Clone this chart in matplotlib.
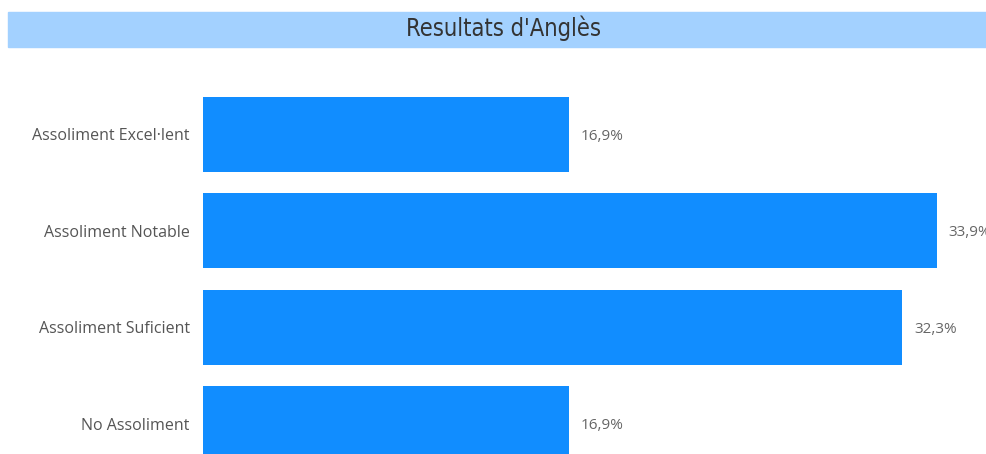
import matplotlib
matplotlib.use("Agg")
import matplotlib.pyplot as plt
from matplotlib.patches import Rectangle
from matplotlib.transforms import offset_copy

# dades
categories = ["Assoliment Excel·lent", "Assoliment Notable", "Assoliment Suficient", "No Assoliment"]
valors = [16.9, 33.9, 32.3, 16.9]
etiquetes = ["16,9%", "33,9%", "32,3%", "16,9%"]

fig = plt.figure(figsize=(9.86, 4.54), dpi=100)

# franja del titol
fig.patches.append(Rectangle((8 / 986, 1 - 47 / 454), 1, 35 / 454,
                             transform=fig.transFigure, color="#A3D1FF", zorder=0))
fig.text(503.5 / 986, 1 - 28 / 454, "Resultats d'Anglès", ha="center", va="center",
         fontsize=17, color="#333333", family="DejaVu Sans", fontstretch="condensed")

ax = fig.add_axes([203 / 986, 0, 783 / 986, 368 / 454])
pos = list(range(len(categories)))
ax.barh(pos, valors, height=0.777, color="#118DFF")
ax.set_xlim(0, 36.17)
ax.set_ylim(3.313, -0.5)
ax.set_yticks(pos)
ax.set_yticklabels(categories, fontsize=11.5, color="#555555", family="Open Sans")
ax.tick_params(axis="y", length=0, pad=9.5)
ax.set_xticks([])
for s in ax.spines.values():
    s.set_visible(False)

tr = offset_copy(ax.transData, fig=fig, x=12, y=-2, units="dots")
for p, v, t in zip(pos, valors, etiquetes):
    ax.text(v, p, t, transform=tr, va="center", ha="left", fontsize=11,
            color="#666666", family="Open Sans", clip_on=False)

fig.savefig("out.png", dpi=100)
